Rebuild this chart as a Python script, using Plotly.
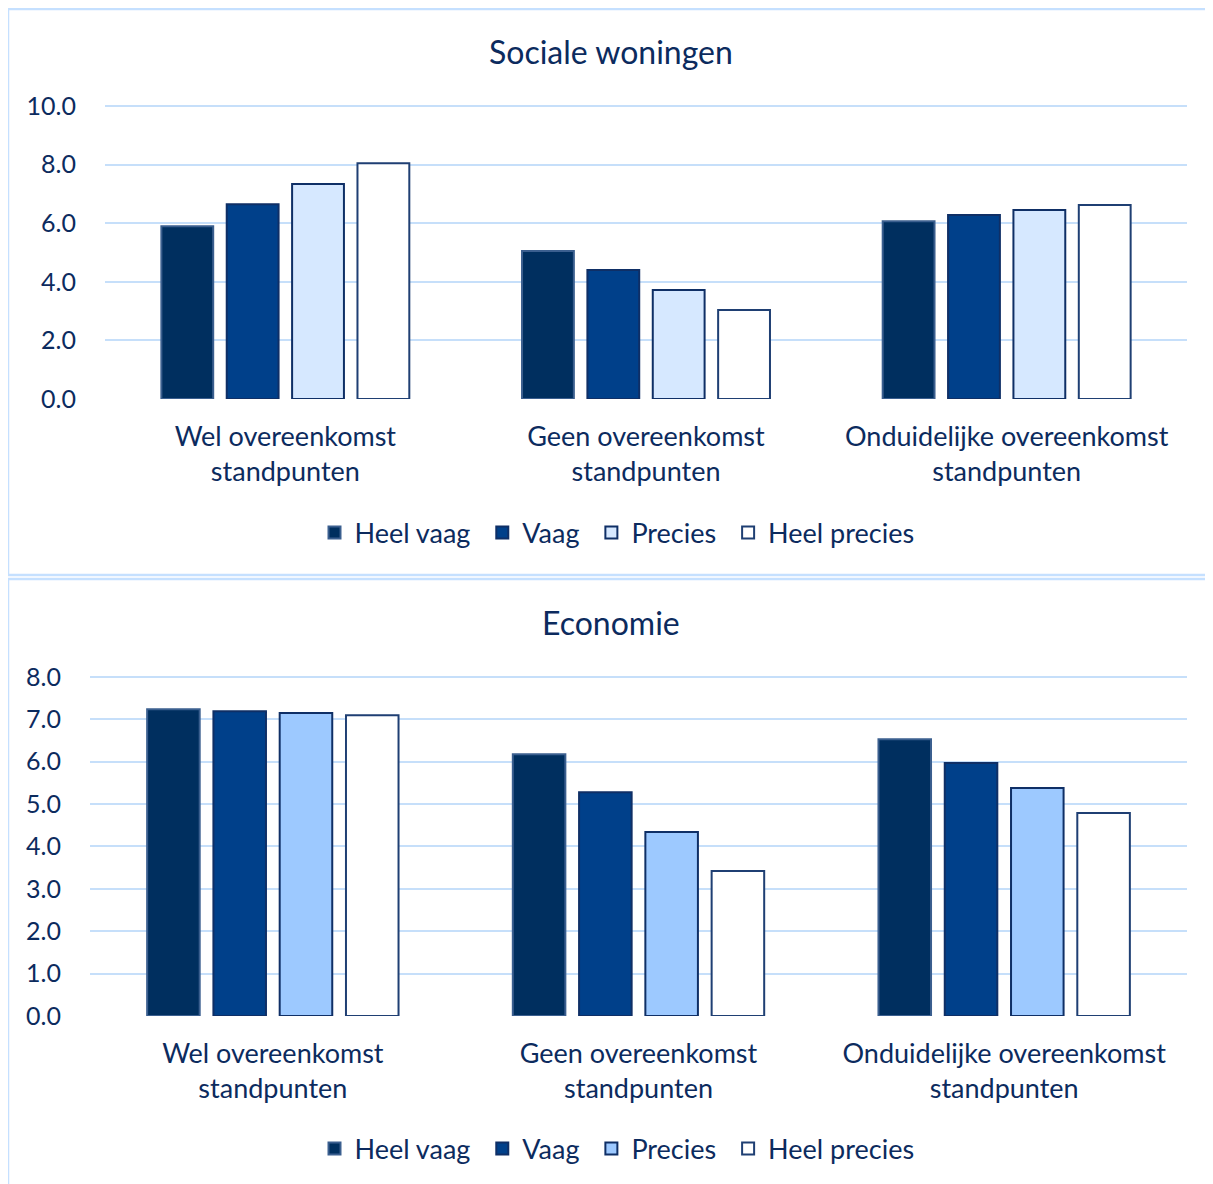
import plotly.graph_objects as go

OFF = 8  # page body margin in the browser
W, H = 1213 - OFF, 1184 - OFF

categories = ["Wel overeenkomst<br>standpunten", "Geen overeenkomst<br>standpunten",
              "Onduidelijke overeenkomst<br>standpunten"]
series_names = ["Heel vaag", "Vaag", "Precies", "Heel precies"]

# Sociale woningen
sw_heel_vaag = [5.9, 5.05, 6.07]
sw_vaag = [6.65, 4.4, 6.28]
sw_precies = [7.34, 3.72, 6.45]
sw_heel_precies = [8.05, 3.04, 6.62]

# Economie
ec_heel_vaag = [7.24, 6.18, 6.53]
ec_vaag = [7.19, 5.28, 5.97]
ec_precies = [7.15, 4.34, 5.38]
ec_heel_precies = [7.1, 3.42, 4.79]

top_tick_vals = [0, 2, 4, 6, 8, 10]
bot_tick_vals = [0, 1, 2, 3, 4, 5, 6, 7, 8]

TXT = "#0c2b5e"
GRID = "#c6dffa"
FONT = "Lato"

top_colors = ["#002f5f", "#00408a", "#d6e8ff", "#ffffff"]
bot_colors = ["#002f5f", "#00408a", "#9dc9ff", "#ffffff"]
line_colors = ["#3b5f8f", "#0f2f66", "#0f2f66", "#1f3f73"]

# legend labels (invisible trailing space widens the gap between entries)
legend_labels = [n + "\u00a0" if k < len(series_names) - 1 else n
                 for k, n in enumerate(series_names)]

fig = go.Figure()

top_data = [sw_heel_vaag, sw_vaag, sw_precies, sw_heel_precies]
bot_data = [ec_heel_vaag, ec_vaag, ec_precies, ec_heel_precies]

for i, name in enumerate(legend_labels):
    fig.add_trace(go.Bar(
        x=categories, y=top_data[i], name=name,
        marker=dict(color=top_colors[i], line=dict(color=line_colors[i], width=2)),
        xaxis="x", yaxis="y", legend="legend", hoverinfo="y"))
for i, name in enumerate(legend_labels):
    fig.add_trace(go.Bar(
        x=categories, y=bot_data[i], name=name,
        marker=dict(color=bot_colors[i], line=dict(color=line_colors[i], width=2)),
        xaxis="x2", yaxis="y2", legend="legend2", hoverinfo="y"))


def px_x(p):
    return (p - OFF) / W


def px_y(p):
    return 1 - (p - OFF) / H


# pixel geometry of the plotting areas (value 0 line and value max line)
TOP_Y0, TOP_YMAXPX, TOP_MAX = 399, 106, 10
BOT_Y0, BOT_YMAXPX, BOT_MAX = 1016, 677, 8
TOP_EXT, BOT_EXT = 10.1, 8.06
top_ppu = (TOP_Y0 - TOP_YMAXPX) / TOP_MAX
bot_ppu = (BOT_Y0 - BOT_YMAXPX) / BOT_MAX

xaxis_common = dict(showline=False, zeroline=False, ticks="", showgrid=False,
                    ticklabelstandoff=19,
                    tickfont=dict(family=FONT, size=27, color=TXT))
yaxis_common = dict(showline=False, zeroline=False, ticks="", showgrid=True,
                    gridcolor=GRID, gridwidth=2, tickformat=".1f",
                    ticklabelstandoff=28,
                    tickfont=dict(family=FONT, size=25, color=TXT))

legend_common = dict(orientation="h", xanchor="center", yanchor="middle",
                     font=dict(family=FONT, size=27, color=TXT),
                     bgcolor="rgba(0,0,0,0)", traceorder="normal", itemwidth=30)

fig.update_layout(
    width=W, height=H,
    margin=dict(l=0, r=0, t=0, b=0, pad=0, autoexpand=False),
    paper_bgcolor="white", plot_bgcolor="white",
    barmode="group", bargap=0.275, bargroupgap=0.207,
    font=dict(family=FONT, color=TXT),
    xaxis=dict(domain=[px_x(105), px_x(1187)], anchor="y", **xaxis_common),
    yaxis=dict(domain=[px_y(TOP_Y0), px_y(TOP_Y0 - TOP_EXT * top_ppu)], anchor="x",
               range=[0, TOP_EXT], tickvals=top_tick_vals, **yaxis_common),
    xaxis2=dict(domain=[px_x(90), px_x(1187)], anchor="y2", **xaxis_common),
    yaxis2=dict(domain=[px_y(BOT_Y0), px_y(BOT_Y0 - BOT_EXT * bot_ppu)], anchor="x2",
                range=[0, BOT_EXT], tickvals=bot_tick_vals, **yaxis_common),
    legend=dict(x=px_x(617), y=px_y(533), **legend_common),
    legend2=dict(x=px_x(617), y=px_y(1149), **legend_common),
    showlegend=True,
)

fig.add_annotation(text="Sociale woningen", x=px_x(611), y=px_y(51), xref="paper", yref="paper",
                   showarrow=False, font=dict(family=FONT, size=32, color=TXT),
                   xanchor="center", yanchor="middle")
fig.add_annotation(text="Economie", x=px_x(611), y=px_y(622), xref="paper", yref="paper",
                   showarrow=False, font=dict(family=FONT, size=32, color=TXT),
                   xanchor="center", yanchor="middle")

BORDER = "#c5e0ff"
for (x0, y0, x1, y1) in [(7, 8, 1213, 8), (7, 8, 7, 575), (7, 575, 1213, 575),
                         (7, 579, 1213, 579), (7, 579, 7, 1184)]:
    fig.add_shape(type="line", xref="paper", yref="paper",
                  x0=px_x(max(x0, OFF)), y0=px_y(max(y0, OFF + 1)),
                  x1=px_x(max(x1, OFF)), y1=px_y(max(y1, OFF + 1)),
                  line=dict(color=BORDER, width=2.5))

fig.write_html("out.html")
